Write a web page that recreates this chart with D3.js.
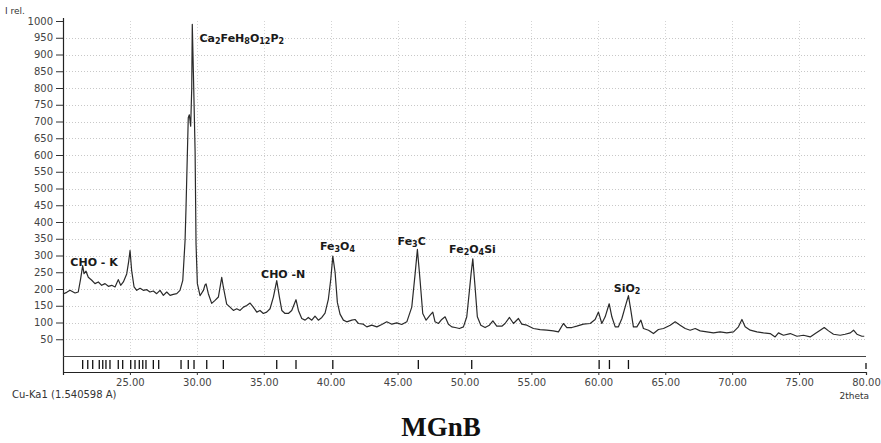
<!DOCTYPE html>
<html>
<head>
<meta charset="utf-8">
<script src="https://cdn.jsdelivr.net/npm/d3@7"></script>
<style>
  body { margin: 0; background: #fff; }
  svg { display: block; }
</style>
</head>
<body>
<svg id="chart" width="881" height="443"></svg>
<script>
// ---DATA---//

// 2theta (deg) and relative intensity of the pattern
var twoTheta = [
  20.00, 20.28, 20.52, 20.90, 21.14, 21.32, 21.47, 21.57, 21.72, 21.89,
  22.15, 22.39, 22.64, 22.89, 23.14, 23.39, 23.64, 23.89, 24.13, 24.31,
  24.51, 24.76, 24.90, 25.01, 25.13, 25.31, 25.51, 25.76, 26.00, 26.26,
  26.50, 26.75, 27.00, 27.25, 27.50, 27.75, 28.00, 28.24, 28.50, 28.74,
  28.95, 29.12, 29.19, 29.29, 29.36, 29.44, 29.54, 29.62, 29.66, 29.74,
  29.87, 29.94, 30.04, 30.24, 30.49, 30.61, 30.69, 30.86, 31.11, 31.36,
  31.61, 31.86, 31.98, 32.23, 32.48, 32.73, 32.98, 33.23, 33.48, 33.73,
  33.98, 34.22, 34.48, 34.72, 34.97, 35.22, 35.47, 35.72, 35.97, 36.17,
  36.35, 36.59, 36.84, 37.09, 37.41, 37.59, 37.84, 38.09, 38.33, 38.59,
  38.83, 39.08, 39.34, 39.58, 39.83, 40.01, 40.16, 40.33, 40.50, 40.70,
  40.95, 41.20, 41.58, 41.82, 42.07, 42.44, 42.70, 43.07, 43.45, 43.82,
  44.19, 44.57, 44.94, 45.31, 45.69, 46.06, 46.31, 46.48, 46.68, 46.88,
  47.13, 47.43, 47.63, 47.80, 48.05, 48.30, 48.55, 48.80, 49.05, 49.30,
  49.62, 49.92, 50.17, 50.37, 50.49, 50.62, 50.79, 50.96, 51.22, 51.54,
  51.86, 52.12, 52.41, 52.79, 53.03, 53.36, 53.66, 54.03, 54.28, 54.66,
  55.15, 55.65, 56.15, 56.64, 57.02, 57.39, 57.65, 58.02, 58.39, 58.89,
  59.39, 59.76, 60.01, 60.26, 60.51, 60.81, 61.01, 61.26, 61.50, 61.76,
  62.00, 62.25, 62.43, 62.62, 62.88, 63.18, 63.37, 63.75, 64.12, 64.49,
  64.87, 65.37, 65.74, 66.11, 66.49, 66.86, 67.24, 67.61, 68.11, 68.60,
  69.10, 69.60, 70.10, 70.47, 70.73, 70.97, 71.35, 71.85, 72.34, 72.84,
  73.21, 73.46, 73.83, 74.34, 74.84, 75.33, 75.83, 76.21, 76.58, 76.88,
  77.20, 77.57, 78.07, 78.44, 78.83, 79.07, 79.32, 79.69, 79.87
];
var intensity = [
  185, 190, 196, 188, 191, 231, 270, 246, 253, 235,
  226, 216, 221, 211, 216, 208, 211, 206, 228, 211,
  221, 245, 280, 315, 255, 206, 196, 202, 196, 198,
  191, 194, 186, 196, 181, 191, 181, 184, 186, 196,
  226, 344, 440, 600, 711, 720, 686, 800, 990, 850,
  611, 335, 216, 180, 196, 212, 215, 186, 157, 166,
  176, 235, 206, 155, 146, 136, 141, 136, 146, 151,
  158, 146, 131, 136, 127, 131, 141, 176, 225, 176,
  136, 127, 127, 136, 168, 136, 112, 107, 115, 107,
  119, 107, 115, 128, 170, 230, 298, 250, 160, 125,
  107, 102, 107, 109, 97, 95, 87, 92, 87, 94,
  102, 95, 99, 94, 102, 146, 245, 318, 226, 127,
  107, 122, 131, 102, 97, 109, 117, 95, 87, 85,
  82, 87, 117, 196, 245, 290, 206, 117, 92, 85,
  92, 105, 89, 89, 97, 115, 97, 112, 95, 92,
  82, 79, 77, 75, 72, 97, 85, 85, 89, 95,
  97, 109, 131, 97, 117, 156, 117, 87, 87, 112,
  146, 180, 136, 87, 87, 107, 82, 77, 67, 79,
  82, 92, 102, 92, 82, 77, 82, 75, 72, 69,
  72, 69, 72, 87, 109, 87, 77, 72, 69, 67,
  57, 69, 62, 67, 59, 62, 57, 67, 77, 85,
  75, 65, 62, 65, 69, 77, 65, 59, 59
];

// reference phase lines shown in the strip under the pattern
var refLines = [
  21.47, 21.85, 22.22, 22.71, 22.97, 23.21, 23.51, 24.13, 24.46, 25.06,
  25.38, 25.70, 25.96, 26.20, 26.75, 27.15, 28.82, 29.36, 29.79, 30.74,
  31.98, 35.97, 37.41, 40.16, 46.55, 50.54, 60.06, 60.83, 62.25
];

// peak labels: list of [text, isSubscript], anchor in 2theta / intensity
var peakNames = [
  [["CHO - K", 0]],
  [["Ca", 0], ["2", 1], ["FeH", 0], ["8", 1], ["O", 0], ["12", 1], ["P", 0], ["2", 1]],
  [["CHO -N", 0]],
  [["Fe", 0], ["3", 1], ["O", 0], ["4", 1]],
  [["Fe", 0], ["3", 1], ["C", 0]],
  [["Fe", 0], ["2", 1], ["O", 0], ["4", 1], ["Si", 0]],
  [["SiO", 0], ["2", 1]]
];
var peakLabelX = [20.55, 30.2, 34.8, 39.2, 45.0, 48.85, 61.15];
var peakLabelY = [270, 938, 232, 315, 330, 308, 190];

var yTicks = d3.range(50, 1001, 50);
var xTicks = d3.range(25, 81, 5);

// ---LAYOUT---//

var svg = d3.select("#chart");
var plotLeft = 63, plotRight = 866, plotTop = 21, zeroY = 356, stripBottom = 372;

var x = d3.scaleLinear().domain([20, 80]).range([plotLeft, plotRight]);
var y = d3.scaleLinear().domain([0, 1000]).range([zeroY, plotTop]);

var tickFont = "DejaVu Sans, Verdana, sans-serif";

// grid
var grid = svg.append("g").attr("class", "grid");
grid.selectAll("line.h").data(yTicks.filter(function(d) { return d < 1000; })).enter()
  .append("line")
  .attr("x1", plotLeft).attr("x2", plotRight)
  .attr("y1", function(d) { return Math.round(y(d)) + 0.5; })
  .attr("y2", function(d) { return Math.round(y(d)) + 0.5; })
  .attr("stroke", "#c8c8c8")
  .attr("stroke-dasharray", "1,2");
grid.selectAll("line.v").data(xTicks.filter(function(d) { return d < 80; })).enter()
  .append("line")
  .attr("x1", function(d) { return Math.round(x(d)) + 0.5; })
  .attr("x2", function(d) { return Math.round(x(d)) + 0.5; })
  .attr("y1", plotTop).attr("y2", zeroY)
  .attr("stroke", "#d4d4d4")
  .attr("stroke-dasharray", "1,2");

// y axis
var yAxis = svg.append("g")
  .attr("transform", "translate(" + plotLeft + ",0)")
  .call(d3.axisLeft(y).tickValues(yTicks).tickSize(7).tickPadding(3).tickFormat(d3.format("d")));
yAxis.select(".domain").remove();
yAxis.selectAll("text")
  .attr("font-family", tickFont).attr("font-size", "10px").attr("fill", "#444");
yAxis.selectAll("line").attr("stroke", "#333");

svg.append("line")
  .attr("x1", plotLeft + 0.5).attr("x2", plotLeft + 0.5)
  .attr("y1", plotTop - 3).attr("y2", stripBottom)
  .attr("stroke", "#222").attr("stroke-width", 1.2);

// strip frame
svg.append("line")
  .attr("x1", plotLeft).attr("x2", plotRight)
  .attr("y1", zeroY + 0.5).attr("y2", zeroY + 0.5)
  .attr("stroke", "#444").attr("stroke-width", 1);

// x axis
var xAxis = svg.append("g")
  .attr("transform", "translate(0," + stripBottom + ")")
  .call(d3.axisBottom(x).tickValues(xTicks).tickSize(3).tickPadding(4).tickFormat(d3.format(".2f")));
xAxis.select(".domain").attr("stroke", "#222").attr("stroke-width", 1.2);
xAxis.selectAll("text")
  .attr("font-family", tickFont).attr("font-size", "10px").attr("fill", "#444");
xAxis.selectAll("line").attr("stroke", "#333");

// reference lines
svg.append("g").selectAll("line").data(refLines).enter()
  .append("line")
  .attr("x1", function(d) { return x(d); })
  .attr("x2", function(d) { return x(d); })
  .attr("y1", zeroY + 4).attr("y2", stripBottom - 3)
  .attr("stroke", "#111").attr("stroke-width", 1.3);
svg.append("line")
  .attr("x1", x(80)).attr("x2", x(80))
  .attr("y1", zeroY + 7).attr("y2", stripBottom - 3)
  .attr("stroke", "#111").attr("stroke-width", 1.3);

// pattern
var points = twoTheta.map(function(t, i) { return [t, intensity[i]]; });
var line = d3.line()
  .x(function(d) { return x(d[0]); })
  .y(function(d) { return y(d[1]); });
svg.append("path")
  .datum(points)
  .attr("d", line)
  .attr("fill", "none")
  .attr("stroke", "#2a2a2a")
  .attr("stroke-width", 1.2)
  .attr("stroke-linejoin", "round");

// peak labels
peakNames.forEach(function(parts, i) {
  var t = svg.append("text")
    .attr("x", x(peakLabelX[i]))
    .attr("y", y(peakLabelY[i]))
    .attr("font-family", tickFont)
    .attr("font-weight", "bold")
    .attr("font-size", "11px")
    .attr("fill", "#1a1a1a");
  var wasSub = false;
  parts.forEach(function(p) {
    var s = t.append("tspan").text(p[0]);
    if (p[1]) {
      s.attr("font-size", "8px").attr("dy", wasSub ? 0 : 2);
      wasSub = true;
    } else {
      s.attr("dy", wasSub ? -2 : 0);
      wasSub = false;
    }
  });
});

// axis captions
svg.append("text").attr("x", 5).attr("y", 14)
  .attr("font-family", tickFont).attr("font-size", "9px").attr("fill", "#333")
  .text("I rel.");
svg.append("text").attr("x", 12).attr("y", 398)
  .attr("font-family", tickFont).attr("font-size", "10px").attr("fill", "#333")
  .text("Cu-Ka1 (1.540598 A)");
svg.append("text").attr("x", 869).attr("y", 399).attr("text-anchor", "end")
  .attr("font-family", tickFont).attr("font-size", "9px").attr("fill", "#333")
  .text("2theta");

// title
svg.append("text").attr("x", 441).attr("y", 436).attr("text-anchor", "middle")
  .attr("font-family", "Liberation Serif, Times New Roman, serif")
  .attr("font-weight", "bold").attr("font-size", "27px").attr("fill", "#111")
  .text("MGnB");
</script>
</body>
</html>
